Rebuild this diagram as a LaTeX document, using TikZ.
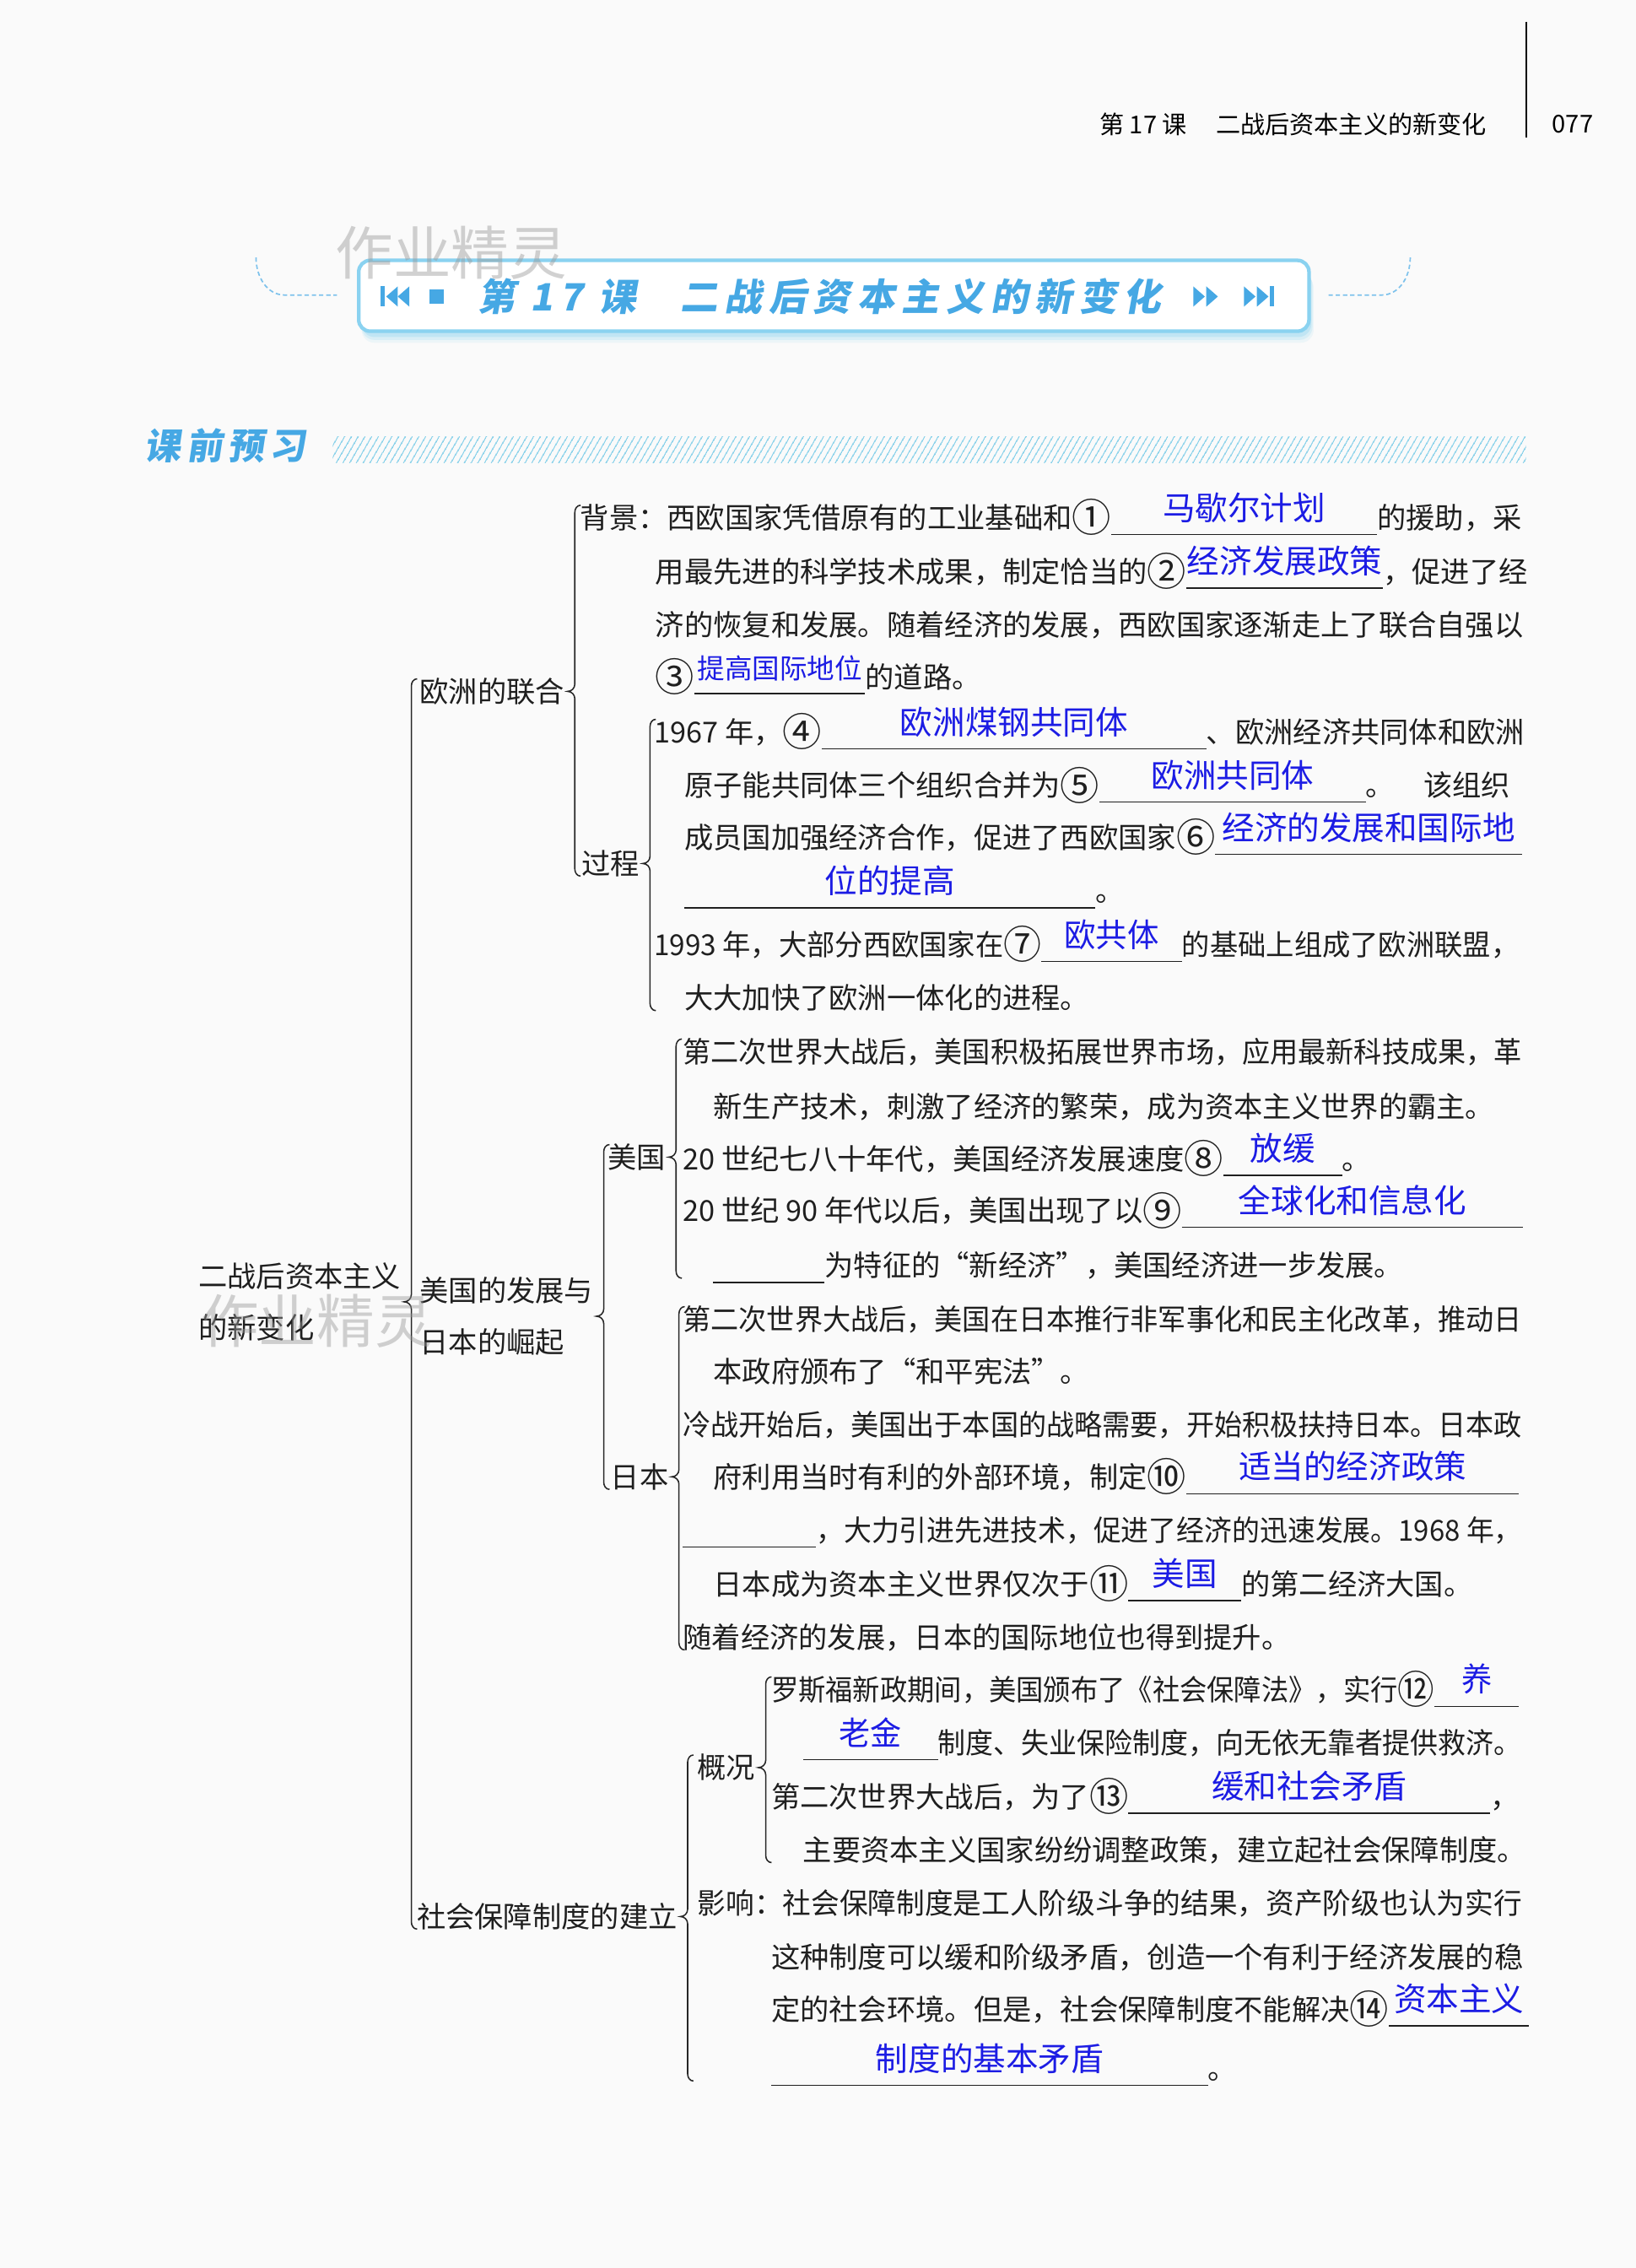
\documentclass[tikz,border=0pt]{standalone}
\usepackage{fontspec}
\usepackage{graphicx}
\usetikzlibrary{calc,patterns.meta}
\newfontfamily\cjk{Noto Sans CJK SC}
\newfontfamily\ttlf[FakeSlant=0.18,LetterSpace=18]{Noto Sans CJK SC}
\newfontfamily\kqf[FakeSlant=0.15,LetterSpace=15]{Noto Sans CJK SC}
\definecolor{ansblue}{RGB}{28,28,228}
\definecolor{ttlblue}{RGB}{70,168,228}
\definecolor{rimblue}{RGB}{138,210,240}
\definecolor{hatchblue}{RGB}{125,205,232}
\definecolor{paper}{RGB}{250,250,250}
% blank with the answer written above it
\newcommand\ans[3][22.5]{\makebox[#2pt][c]{\smash{\raisebox{6pt}{\fontsize{#1}{#1}\selectfont\color{ansblue}#3}}}\llap{\rule[-4.5pt]{#2pt}{0.8pt}}}
% circled number, full size
\newcommand\cn[1]{\raisebox{-2.5pt}{\fontsize{27}{27}\selectfont#1}}
% squeeze a line to the right margin
\newcommand\fit[2]{\resizebox{#1pt}{\height}{#2}}
% brace: parent, first child, last child
\newcommand\brc[3]{\draw[bline] let \p1=(#1.east), \p2=(#2.north), \p3=(#3.south) in
  (\x1+11pt,\y2) to[out=180,in=90] (\x1+7pt,\y2-5pt) -- (\x1+7pt,\y1+5pt)
  to[out=-90,in=0] (\x1+2pt,\y1) to[out=0,in=90] (\x1+7pt,\y1-5pt)
  -- (\x1+7pt,\y3+5pt) to[out=-90,in=180] (\x1+11pt,\y3);}

\begin{document}
\begin{tikzpicture}[x=1pt,y=-1pt,
ln/.style={anchor=west,inner sep=0pt,text height=16pt,text depth=1pt,font=\cjk\fontsize{20}{36}\selectfont,text=black!88},
lbl/.style={anchor=west,inner sep=0pt,align=left,font=\cjk\fontsize{20}{36}\selectfont,text=black!88},
hd/.style={anchor=west,inner sep=0pt,font=\cjk\fontsize{17}{20}\selectfont},
wm/.style={inner sep=0pt,font=\cjk\fontsize{40}{40}\selectfont,text=black!40,opacity=0.45},
bline/.style={line width=0.9pt,draw=black!85},
deco/.style={draw=ttlblue!70,line width=1pt,densely dashed}]
\useasboundingbox (0,0) rectangle (1131,1568);
\fill[paper] (0,0) rectangle (1131,1568);

% page head
\node[hd] (hdr) at (760,86) {第 17 课\hspace{20pt}二战后资本主义的新变化};
\node[hd] (pgno) at (1073,86) {077};
\draw[line width=1.2pt] (1055,15) -- (1055,95);

% lesson banner
\foreach \d/\o in {8/0.12,6/0.2,4/0.3}
  \fill[rimblue,opacity=\o,rounded corners=9] (250,182+\d) rectangle (905+\d*0.4,229+\d);
\draw[rimblue,line width=2.5pt,fill=white,rounded corners=8] (248,180) rectangle (905,229);
\draw[deco] (177,178) to[out=-90,in=180] (197,204) -- (233,204);
\draw[deco] (975,178) to[out=-90,in=0] (955,204) -- (918,204);
\fill[ttlblue] (263,198) rectangle (266,212);
\foreach \x in {275,283}
  \fill[ttlblue] (\x,198) -- (\x-8,205) -- (\x,212) -- cycle;
\fill[ttlblue] (297,200) rectangle (307,210);
\foreach \x in {825,834,860,869}
  \fill[ttlblue] (\x,198) -- (\x+8,205) -- (\x,212) -- cycle;
\fill[ttlblue] (878,198) rectangle (881,212);
\node[anchor=west,inner sep=0pt,font=\ttlf\bfseries\fontsize{26}{26}\selectfont,text=ttlblue] (ttl1) at (330,205) {第 17 课};
\node[anchor=west,inner sep=0pt,font=\ttlf\bfseries\fontsize{26}{26}\selectfont,text=ttlblue] (ttl2) at (470,205) {二战后资本主义的新变化};
\node[wm] (wm1) at (312,175) {作业精灵};

% section head
\node[anchor=west,inner sep=0pt,font=\kqf\bfseries\fontsize{25}{25}\selectfont,text=ttlblue] (kq) at (100,308) {课前预习};
\fill[pattern={Lines[angle=60,distance=4pt,line width=0.8pt]},pattern color=hatchblue] (230,302) rectangle (1055,320);

% tree
\node[lbl] (root) at (137,900) {二战后资本主义\\的新变化};
\node[lbl,text height=16pt,text depth=1pt] (oz) at (290,478) {欧洲的联合};
\node[lbl] (mr) at (290,910) {美国的发展与\\日本的崛起};
\node[lbl,text height=16pt,text depth=1pt] (sb) at (288,1325) {社会保障制度的建立};

% Europe
\node[ln] (bj1) at (401,358) {背景：西欧国家凭借原有的工业基础和\cn{①}\ans{184}{马歇尔计划}的援助，采};
\node[ln] (bj2) at (453,395) {用最先进的科学技术成果，制定恰当的\cn{②}\ans{136}{经济发展政策}，促进了经};
\node[ln] (bj3) at (453,432) {济的恢复和发展。随着经济的发展，西欧国家逐渐走上了联合自强以};
\node[ln] (bj4) at (453,468) {\cn{③}\ans[19]{118}{提高国际地位}的道路。};
\node[ln] (gc) at (402,597) {过程};
\node[ln] (gc1) at (452,506) {1967 年，\cn{④}\ans{266}{欧洲煤钢共同体}、欧洲经济共同体和欧洲};
\node[ln] (gc2) at (473,543) {原子能共同体三个组织合并为\cn{⑤}\ans{184}{欧洲共同体}。\hspace{20pt}该组织};
\node[ln] (gc3) at (473,579) {成员国加强经济合作，促进了西欧国家\cn{⑥}\ans{212}{经济的发展和国际地}};
\node[ln] (gc4) at (473,616) {\ans{284}{位的提高}。};
\node[ln] (gc5) at (452,653) {\fit{598}{1993 年，大部分西欧国家在\cn{⑦}\ans{100}{欧共体}的基础上组成了欧洲联盟，}};
\node[ln] (gc6) at (473,690) {大大加快了欧洲一体化的进程。};

% USA
\node[ln] (mg) at (420,800) {美国};
\node[ln] (mg1) at (472,727) {\fit{580}{第二次世界大战后，美国积极拓展世界市场，应用最新科技成果，革}};
\node[ln] (mg2) at (493,765) {新生产技术，刺激了经济的繁荣，成为资本主义世界的霸主。};
\node[ln] (mg3) at (472,801) {20 世纪七八十年代，美国经济发展速度\cn{⑧}\ans{82}{放缓}。};
\node[ln] (mg4) at (472,837) {20 世纪 90 年代以后，美国出现了以\cn{⑨}\ans{236}{全球化和信息化}};
\node[ln] (mg5) at (493,875) {\ans{77}{}为特征的“新经济”，美国经济进一步发展。};

% Japan
\node[ln] (rb) at (422,1021) {日本};
\node[ln] (rb1) at (472,912) {\fit{580}{第二次世界大战后，美国在日本推行非军事化和民主化改革，推动日}};
\node[ln] (rb2) at (493,948) {本政府颁布了“和平宪法”。};
\node[ln] (rb3) at (472,985) {\fit{580}{冷战开始后，美国出于本国的战略需要，开始积极扶持日本。日本政}};
\node[ln] (rb4) at (493,1021) {府利用当时有利的外部环境，制定\cn{⑩}\ans{230}{适当的经济政策}};
\node[ln] (rb5) at (472,1058) {\fit{580}{\ans{96}{}，大力引进先进技术，促进了经济的迅速发展。1968 年，}};
\node[ln] (rb6) at (493,1095) {日本成为资本主义世界仅次于\cn{⑪}\ans{78}{美国}的第二经济大国。};
\node[ln] (rb7) at (472,1132) {随着经济的发展，日本的国际地位也得到提升。};

% social security
\node[ln] (gk) at (482,1222) {概况};
\node[ln] (gk1) at (533,1168) {\fit{517}{罗斯福新政期间，美国颁布了《社会保障法》，实行\cn{⑫}\ans{62}{养}}};
\node[ln] (gk2) at (555,1205) {\fit{497}{\ans{97}{老金}制度、失业保险制度，向无依无靠者提供救济。}};
\node[ln] (gk3) at (533,1242) {第二次世界大战后，为了\cn{⑬}\ans{250}{缓和社会矛盾}，};
\node[ln] (gk4) at (555,1279) {主要资本主义国家纷纷调整政策，建立起社会保障制度。};
\node[ln] (yx1) at (482,1316) {\fit{570}{影响：社会保障制度是工人阶级斗争的结果，资产阶级也认为实行}};
\node[ln] (yx2) at (533,1353) {这种制度可以缓和阶级矛盾，创造一个有利于经济发展的稳};
\node[ln] (yx3) at (533,1389) {定的社会环境。但是，社会保障制度不能解决\cn{⑭}\ans{97}{资本主义}};
\node[ln] (yx4) at (533,1430) {\ans{302}{制度的基本矛盾}。};

% braces
\brc{root}{oz}{sb}
\brc{oz}{bj1}{gc}
\brc{gc}{gc1}{gc6}
\brc{mr}{mg}{rb}
\brc{mg}{mg1}{mg5}
\brc{rb}{rb1}{rb7}
\brc{sb}{gk}{yx4}
\brc{gk}{gk1}{gk4}

\node[wm] (wm2) at (219,913) {作业精灵};
\end{tikzpicture}
\end{document}
